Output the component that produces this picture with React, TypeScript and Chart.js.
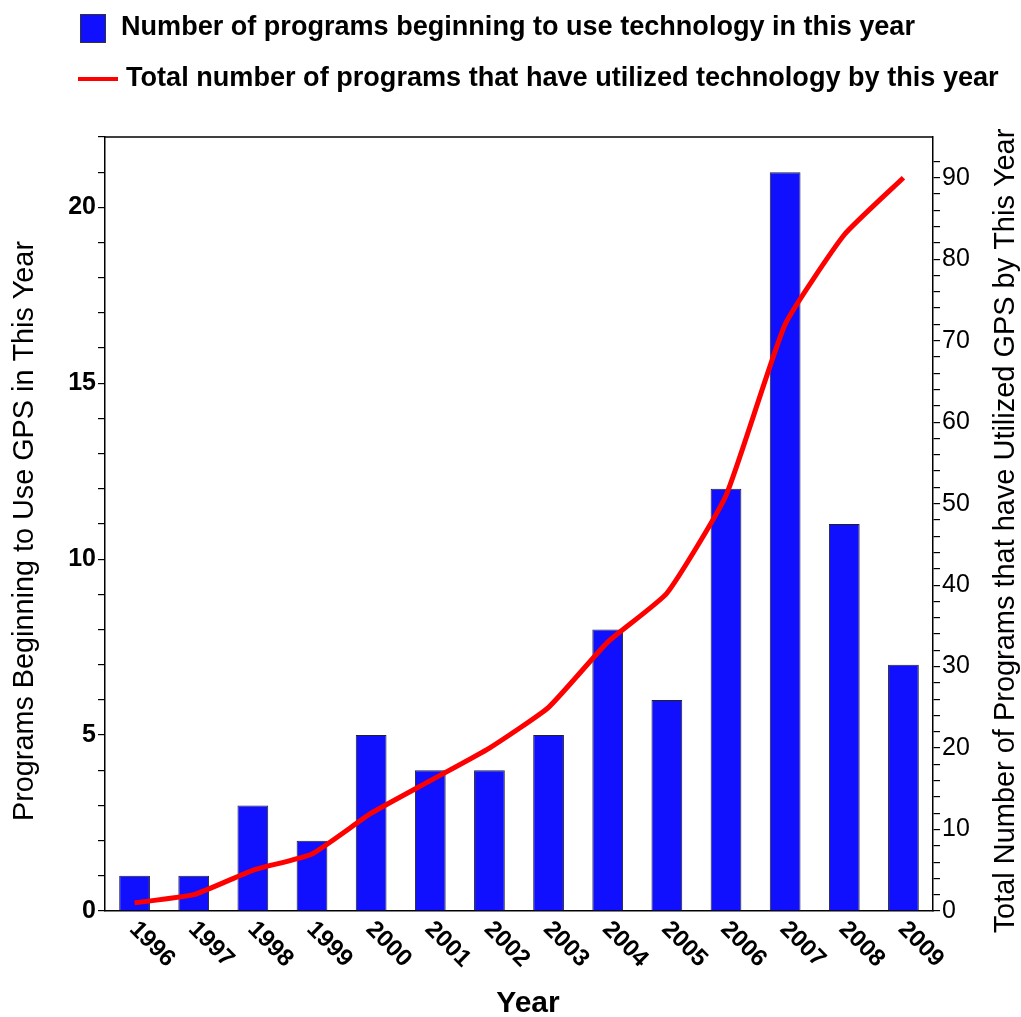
import React, { useEffect, useRef } from "react";
import { Chart, registerables } from "chart.js";

Chart.register(...registerables);

const FAMILY = '"Liberation Sans", Arial, Helvetica, sans-serif';

const years = ["1996", "1997", "1998", "1999", "2000", "2001", "2002", "2003", "2004", "2005", "2006", "2007", "2008", "2009"];
const newPrograms = [1, 1, 3, 2, 5, 4, 4, 5, 8, 6, 12, 21, 11, 7];
const totalPrograms = [1, 2, 5, 7, 12, 16, 20, 25, 33, 39, 51, 72, 83, 90];

const barLabel = "Number of programs beginning to use technology in this year";
const lineLabel = "Total number of programs that have utilized technology by this year";
const xTitle = "Year";
const leftTitle = "Programs Beginning to Use GPS in This Year";
const rightTitle = "Total Number of Programs that have Utilized GPS by This Year";

function fitFont(ctx: CanvasRenderingContext2D, text: string, weight: string, width: number) {
  ctx.font = `${weight} 100px ${FAMILY}`;
  const w = ctx.measureText(text).width;
  const size = (100 * width) / w;
  return `${weight} ${size.toFixed(2)}px ${FAMILY}`;
}

const decorPlugin = {
  id: "decor",
  afterDraw(chart: any) {
    const ctx: CanvasRenderingContext2D = chart.ctx;
    const { left, right, top } = chart.chartArea;
    ctx.save();
    // top frame line
    ctx.strokeStyle = "#000";
    ctx.lineWidth = 1.5;
    ctx.beginPath();
    ctx.moveTo(left, top);
    ctx.lineTo(right, top);
    ctx.stroke();

    // legend
    ctx.fillStyle = "#1010ff";
    ctx.fillRect(80, 14, 26, 29);
    ctx.strokeStyle = "#333";
    ctx.lineWidth = 1;
    ctx.strokeRect(80.5, 14.5, 25, 28);
    ctx.fillStyle = "#000";
    ctx.textBaseline = "middle";
    ctx.textAlign = "left";
    ctx.font = fitFont(ctx, barLabel, "bold", 794);
    ctx.fillText(barLabel, 121, 28);

    ctx.strokeStyle = "#ff0000";
    ctx.lineWidth = 4;
    ctx.beginPath();
    ctx.moveTo(78, 79);
    ctx.lineTo(118, 79);
    ctx.stroke();
    ctx.font = fitFont(ctx, lineLabel, "bold", 873);
    ctx.fillText(lineLabel, 126, 79);

    // x tick labels rotated clockwise
    const xs = chart.scales.x;
    ctx.font = `bold 24px ${FAMILY}`;
    ctx.textAlign = "left";
    ctx.textBaseline = "top";
    years.forEach((y, i) => {
      const px = xs.getPixelForValue(i);
      ctx.save();
      ctx.translate(px + 7, 917);
      ctx.rotate(Math.PI / 4);
      ctx.fillText(y, 0, 0);
      ctx.restore();
    });

    // x title
    ctx.textAlign = "center";
    ctx.textBaseline = "middle";
    ctx.font = `bold 30px ${FAMILY}`;
    ctx.fillText(xTitle, 528, 1004);

    // left title
    ctx.save();
    ctx.translate(25, 531);
    ctx.rotate(-Math.PI / 2);
    ctx.font = fitFont(ctx, leftTitle, "normal", 580);
    ctx.fillText(leftTitle, 0, 0);
    ctx.restore();

    // right title
    ctx.save();
    ctx.translate(1006, 531);
    ctx.rotate(-Math.PI / 2);
    ctx.font = fitFont(ctx, rightTitle, "normal", 805);
    ctx.fillText(rightTitle, 0, 0);
    ctx.restore();

    ctx.restore();
  },
};

export default function App() {
  const ref = useRef<HTMLCanvasElement | null>(null);
  useEffect(() => {
    if (!ref.current) return;
    Chart.defaults.color = "#000";
    const chart = new Chart(ref.current, {
      type: "bar",
      data: {
        labels: years,
        datasets: [
          {
            type: "line",
            label: lineLabel,
            data: totalPrograms,
            yAxisID: "y1",
            borderColor: "#ff0000",
            backgroundColor: "#ff0000",
            borderWidth: 5,
            pointRadius: 0,
            tension: 0.15,
            order: 0,
          } as any,
          {
            type: "bar",
            label: barLabel,
            data: newPrograms,
            yAxisID: "y",
            backgroundColor: "#1010ff",
            borderColor: "#222222",
            borderWidth: 1,
            categoryPercentage: 1,
            barPercentage: 0.52,
            order: 1,
          },
        ],
      },
      options: {
        responsive: false,
        animation: false,
        devicePixelRatio: 1,
        layout: { padding: { top: 137, left: 0, right: 0, bottom: 0 } },
        plugins: { legend: { display: false }, tooltip: { enabled: false } },
        scales: {
          x: {
            type: "category",
            ticks: { display: false },
            grid: { display: false, drawTicks: false },
            border: { display: true, color: "#000", width: 1.5 },
            afterFit: (s: any) => {
              s.height = 106;
            },
          },
          y: {
            position: "left",
            min: 0,
            max: 22,
            ticks: {
              stepSize: 1,
              autoSkip: false,
              padding: 2,
              color: "#000",
              font: { family: FAMILY, size: 25, weight: "bold" },
              callback: (v: any) => (v % 5 === 0 ? String(v) : ""),
            },
            grid: { drawOnChartArea: false, drawTicks: true, tickLength: 7, color: "#000", lineWidth: 1.2 },
            border: { display: true, color: "#000", width: 1.5 },
            afterFit: (s: any) => {
              s.width = 105;
            },
          },
          y1: {
            position: "right",
            min: 0,
            max: 95,
            ticks: {
              stepSize: 2,
              autoSkip: false,
              padding: 2,
              color: "#000",
              font: { family: FAMILY, size: 25, weight: "normal" },
              callback: (v: any) => (v % 10 === 0 ? String(v) : ""),
            },
            afterBuildTicks: (s: any) => {
              s.ticks = s.ticks.filter((t: any) => t.value % 2 === 0);
            },
            grid: { drawOnChartArea: false, drawTicks: true, tickLength: 7, color: "#000", lineWidth: 1.2 },
            border: { display: true, color: "#000", width: 1.5 },
            afterFit: (s: any) => {
              s.width = 88;
            },
          },
        },
      } as any,
      plugins: [decorPlugin],
    });
    return () => chart.destroy();
  }, []);
  return (
    <div style={{ position: "absolute", left: 0, top: 0, width: 1021, height: 1017, background: "#fff" }}>
      <canvas ref={ref} width={1021} height={1017} style={{ display: "block" }} />
    </div>
  );
}
